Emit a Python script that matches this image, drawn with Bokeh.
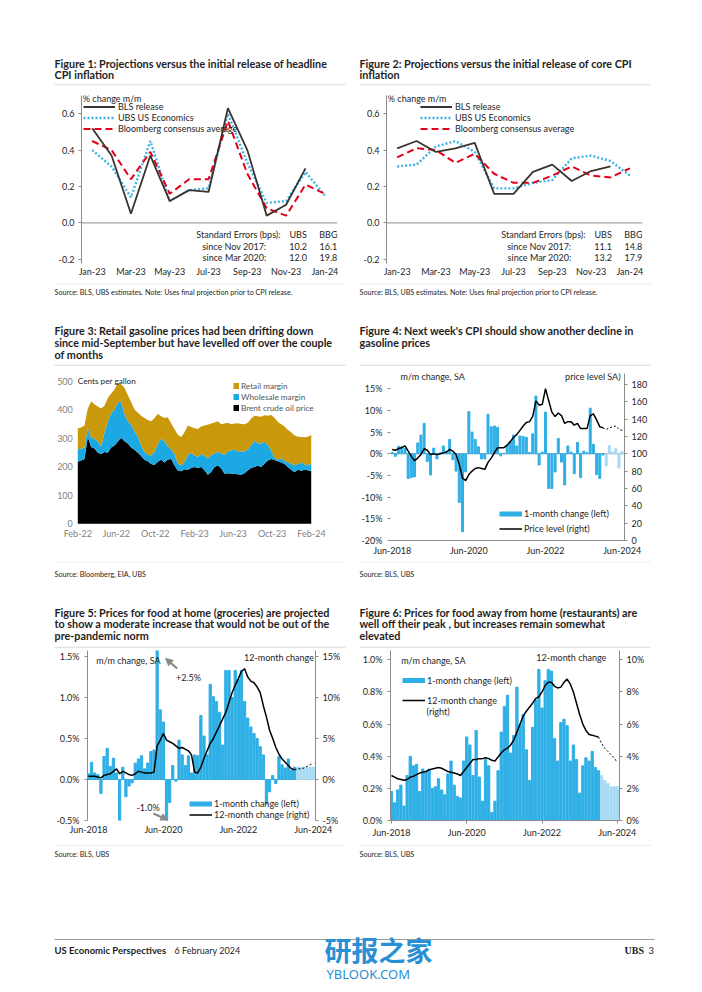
import numpy as np
import pandas as pd
from bokeh.plotting import figure
from bokeh.layouts import column, row
from bokeh.models import (Range1d, LinearAxis, FixedTicker, Label, Legend, LegendItem, Span,
                          PrintfTickFormatter, NumeralTickFormatter, Arrow, NormalHead,
                          DatetimeTickFormatter, ColumnDataSource)
from bokeh.embed import file_html
from bokeh.resources import INLINE

FONT = "Lato"
TXT = "#1e1e1e"
AX = "#8c8c8c"
BLUE = "#2eafe6"
BLUE_LIGHT = "#a6dbf3"
ARROW = "#8a8a8a"
PAGE_W = 700

# ---------------- Figure 1 & 2 data ----------------
cpi_months = ["Jan-23", "Feb-23", "Mar-23", "Apr-23", "May-23", "Jun-23", "Jul-23",
              "Aug-23", "Sep-23", "Oct-23", "Nov-23", "Dec-23", "Jan-24"]
cpi_tick_labels = ["Jan-23", "Mar-23", "May-23", "Jul-23", "Sep-23", "Nov-23", "Jan-24"]
fig1_bls = [0.52, 0.37, 0.05, 0.37, 0.12, 0.18, 0.17, 0.63, 0.40, 0.04, 0.10, 0.30]
fig1_ubs = [0.40, 0.31, 0.14, 0.45, 0.12, 0.18, 0.19, 0.60, 0.33, 0.11, 0.12, 0.28, 0.15]
fig1_bbg = [0.45, 0.40, 0.24, 0.39, 0.16, 0.24, 0.24, 0.56, 0.27, 0.08, 0.04, 0.21, 0.16]
fig2_bls = [0.41, 0.45, 0.39, 0.41, 0.44, 0.16, 0.16, 0.28, 0.32, 0.23, 0.285, 0.31]
fig2_ubs = [0.31, 0.32, 0.42, 0.45, 0.39, 0.19, 0.19, 0.22, 0.235, 0.355, 0.37, 0.34, 0.26]
fig2_bbg = [0.36, 0.41, 0.40, 0.33, 0.38, 0.27, 0.22, 0.22, 0.26, 0.31, 0.26, 0.25, 0.30]
se_rows = ["Standard Errors (bps):", "since Nov 2017:", "since Mar 2020:"]
fig1_se_ubs = ["UBS", "10.2", "12.0"]
fig1_se_bbg = ["BBG", "16.1", "19.8"]
fig2_se_ubs = ["UBS", "11.1", "13.2"]
fig2_se_bbg = ["BBG", "14.8", "17.9"]

# ---------------- Figure 3 data (cents per gallon) ----------------
gas_start = "2022-02-01"
gas_step_hours = 250
brent = [218, 222, 228, 305, 270, 265, 250, 245, 252, 250, 268, 275, 288, 302, 290, 282, 268, 260,
         250, 238, 225, 220, 210, 207, 218, 225, 215, 226, 228, 205, 186, 185, 192, 190, 196, 200,
         196, 200, 188, 172, 182, 200, 205, 195, 176, 178, 177, 175, 174, 172, 178, 188, 196, 200,
         205, 200, 212, 222, 228, 224, 220, 215, 210, 200, 190, 181, 190, 186, 190, 188, 185]
wholesale = [44, 42, 40, 33, 32, 35, 40, 27, 68, 108, 122, 127, 137, 128, 95, 78, 80, 65,
             58, 37, 27, 23, 30, 45, 62, 75, 75, 46, 34, 40, 26, 20, 26, 52, 54, 40,
             40, 46, 50, 58, 60, 47, 47, 53, 66, 77, 81, 85, 81, 83, 76, 74, 79, 92,
             78, 82, 75, 54, 30, 8, 5, 15, 12, 15, 22, 25, 20, 30, 18, 17, 27]
retail = [73, 74, 77, 67, 128, 120, 122, 133, 95, 84, 68, 70, 70, 60, 93, 92, 80, 77,
          82, 105, 120, 122, 120, 120, 106, 78, 82, 102, 90, 87, 101, 100, 104, 103, 90, 96,
          97, 96, 107, 118, 110, 109, 108, 102, 110, 100, 92, 92, 98, 96, 96, 93, 95, 88,
          95, 94, 94, 104, 124, 140, 133, 120, 120, 115, 110, 104, 96, 89, 96, 101, 100]
gas_ticks = ["2022-02-01", "2022-06-01", "2022-10-01", "2023-02-01", "2023-06-01",
             "2023-10-01", "2024-02-01"]

# ---------------- Monthly data Jun-2018 .. Jun-2024 ----------------
months = pd.period_range("2018-06", periods=73, freq="M")
n_actual = 67   # through Dec-2023, remainder projected
gas_mm_actual = [0.3, -0.6, 1.7, 1.6, 1.2, -5.7, -5.5, -5.3, 2.5, 4.3,
                 7.0, -1.8, -4.9, 1.3, -1.2, 0.2, 1.8, 0.4, 3.3, -1.4,
                 -4.0, -11.2, -18.0, -4.2, 9.7, 5.0, 3.3, 1.6, -1.2, -1.2,
                 9.1, 6.2, 6.4, 6.1, -0.5, 0.1, 2.0, 2.8, 4.3, 1.8,
                 4.1, 4.0, 3.8, 0.3, 4.6, 13.3, -2.6, 0.4, 9.6, -8.0,
                 -8.0, -4.2, 3.5, -1.9, -7.2, 1.8, 0.4, -4.6, 2.6, -5.5,
                 0.6, 0.3, 10.5, 2.2, -4.8, -5.7, -0.3]
gas_mm_proj = [-2.8, 1.9, 0.4, 1.2, -3.3, 0.5]
gas_level_actual = [105, 104, 106, 107, 109, 103, 97, 92, 95, 99,
                    106, 104, 99, 100, 99, 100, 101, 102, 105, 103,
                    99, 88, 72, 69, 76, 80, 83, 84, 83, 82,
                    90, 95, 101, 107, 107, 107, 110, 114, 119, 122,
                    127, 132, 136, 137, 143, 161, 156, 157, 175, 161,
                    148, 143, 147, 144, 135, 137, 137, 133, 135, 129,
                    129, 129, 144, 146, 139, 131, 130]
gas_level_proj = [130, 128, 130, 131, 132, 128, 127]

fah_mm_actual = [0.07, 0.21, 0.08, 0.06, -0.17, 0.28, 0.38, 0.16, 0.26, 0.08,
                 -0.50, 0.15, -0.21, -0.08, -0.04, 0.20, 0.25, 0.29, 0.13, 0.20,
                 0.34, 0.36, 2.50, 0.85, 0.70, -1.00, -0.28, 0.17, -0.02, 0.48,
                 0.30, 0.17, 0.29, 0.08, 0.30, 0.29, 0.78, 0.53, 0.30, 1.16,
                 1.01, 0.95, 0.82, 0.42, 1.33, 1.33, 1.00, 1.33, 1.22, 1.33,
                 0.95, 0.75, 0.64, 0.56, 0.50, 0.40, 0.30, -0.30, -0.15, 0.05,
                 -0.05, 0.28, 0.18, 0.14, 0.25, 0.11, 0.15]
fah_mm_proj = [0.15, 0.15, 0.15, 0.15, 0.15, 0.15]
fah_yy_actual = [0.4, 0.4, 0.4, 0.3, 0.2, 0.5, 0.6, 0.7, 1.0, 1.3,
                 0.7, 1.0, 0.8, 0.6, 0.5, 0.7, 1.0, 0.9, 0.8, 0.8,
                 0.8, 0.9, 4.1, 4.8, 5.6, 4.8, 4.6, 4.4, 4.1, 3.8,
                 3.9, 3.7, 3.5, 3.0, 0.9, 0.8, 1.5, 2.6, 3.5, 4.4,
                 5.0, 5.8, 6.6, 7.4, 8.2, 9.4, 10.6, 11.5, 12.3, 13.2,
                 13.5, 12.5, 12.0, 11.8, 11.3, 10.6, 9.0, 7.6, 6.0, 5.0,
                 3.9, 3.1, 2.5, 2.1, 1.7, 1.3, 1.2]
fah_yy_proj = [1.2, 1.3, 1.3, 1.4, 1.6, 1.8, 2.0]

faway_mm_actual = [0.18, 0.11, 0.19, 0.22, 0.09, 0.28, 0.40, 0.34, 0.35, 0.18,
                   0.32, 0.30, 0.32, 0.20, 0.21, 0.26, 0.19, 0.16, 0.29, 0.37,
                   0.22, 0.15, 0.14, 0.37, 0.52, 0.47, 0.28, 0.56, 0.27, 0.12,
                   0.38, 0.34, 0.05, 0.12, 0.31, 0.55, 0.71, 0.78, 0.42, 0.53,
                   0.83, 0.60, 0.66, 0.44, 0.25, 0.58, 0.75, 0.94, 0.70, 0.87,
                   0.94, 0.93, 0.51, 0.37, 0.61, 0.63, 0.59, 0.37, 0.47, 0.38,
                   0.17, 0.34, 0.39, 0.37, 0.43, 0.33, 0.31]
faway_mm_proj = [0.28, 0.25, 0.23, 0.21, 0.21, 0.21]
faway_yy_actual = [2.8, 2.7, 2.6, 2.55, 2.5, 2.55, 2.7, 2.75, 2.85, 2.95,
                   3.0, 3.05, 3.15, 3.2, 3.25, 3.3, 3.25, 3.15, 3.05, 3.0,
                   2.95, 2.9, 2.8, 3.05, 3.3, 3.55, 3.8, 3.8, 3.85, 3.85,
                   3.9, 3.85, 3.75, 3.7, 3.95, 4.2, 4.4, 4.5, 4.7, 5.0,
                   5.5, 6.0, 6.5, 6.8, 7.05, 7.3, 7.6, 7.7, 8.0, 8.4,
                   8.6, 8.6, 8.35, 8.25, 8.3, 8.6, 8.8, 8.5, 8.0, 7.3,
                   6.6, 6.0, 5.6, 5.35, 5.3, 5.25, 5.2]
faway_yy_proj = [5.2, 4.8, 4.5, 4.3, 4.1, 3.9, 3.6]

month_tick_labels = {i: f"Jun-{m.year}" for i, m in enumerate(months)
                     if m.month == 6 and m.year % 2 == 0}


# ---------------- helpers ----------------
def base_fig(w, h, xr, yr, bl, br, bt, bb, x_axis_type="linear"):
    p = figure(width=w, height=h, x_range=xr, y_range=yr, x_axis_type=x_axis_type,
               output_backend="svg", toolbar_location=None, title=None,
               min_border_left=bl, min_border_right=br, min_border_top=bt, min_border_bottom=bb)
    p.grid.visible = False
    p.outline_line_color = None
    p.background_fill_color = "white"
    p.border_fill_color = "white"
    return p


def style_axis(ax, color=TXT, size="9px", line=True, ticks=True, standoff=4):
    ax.major_label_text_font = FONT
    ax.major_label_text_font_size = size
    ax.major_label_text_color = color
    ax.axis_line_color = AX if line else None
    ax.major_tick_line_color = AX if ticks else None
    ax.minor_tick_line_color = None
    ax.major_tick_in = 0
    ax.major_tick_out = 3 if ticks else 0
    ax.major_label_standoff = standoff


def lab(p, x, y, s, size="9px", bold=False, color=TXT, align="left", font=FONT):
    p.add_layout(Label(x=x, y=y, text=s, text_font=font, text_font_size=size,
                       text_font_style="bold" if bold else "normal", text_color=color,
                       text_align=align, text_baseline="middle"))


def proxy(p, color, width):
    return p.line(x=[np.nan], y=[np.nan], line_color=color, line_width=width)


def make_legend(p, items, loc, gw, gh, standoff=3, color=TXT, size="9px"):
    lg = Legend(items=[LegendItem(label=l, renderers=[r]) for l, r in items], location=loc,
                glyph_width=int(gw), glyph_height=int(gh), label_height=int(gh), label_width=10,
                label_standoff=standoff, spacing=0, padding=0, margin=0,
                border_line_color=None, background_fill_alpha=0,
                label_text_font=FONT, label_text_font_size=size, label_text_color=color)
    p.add_layout(lg)


def band_fig(top, h):
    p = figure(width=PAGE_W, height=h, x_range=Range1d(0, PAGE_W), y_range=Range1d(top + h, top),
               output_backend="svg", toolbar_location=None, title=None,
               x_axis_location=None, y_axis_location=None, min_border=0)
    p.grid.visible = False
    p.outline_line_color = None
    return p


def rule(p, x0, x1, y, color="#d9d9d9", w=1):
    p.segment(x0=[x0], y0=[y], x1=[x1], y1=[y], line_color=color, line_width=w)


def title_lines(p, x, y0, lines):
    for i, s in enumerate(lines):
        lab(p, x, y0 + 11.7 * i, s, size="10.8px", bold=True)


LEFT_W = 353
RIGHT_W = PAGE_W - LEFT_W


# ---------------- Figures 1 and 2 ----------------
def cpi_fig(width, bl, br, bls, ubs, bbg, se_ubs, se_bbg, leg_x):
    x = np.arange(len(cpi_months))
    p = base_fig(width, 192, Range1d(-0.55, 12.65), Range1d(-0.223, 0.7), bl, br, 5, 19)
    p.add_layout(Span(location=0, dimension="width", line_color=AX, line_width=1, level="underlay"))
    r_u = p.line(x[:len(ubs)], ubs, line_color="#3cb4e6", line_width=2.4, line_dash="2 2")
    r_b = p.line(x[:len(bbg)], bbg, line_color="#e3001b", line_width=2.0, line_dash="7 4")
    r_l = p.line(x[:len(bls)], bls, line_color="#3b3330", line_width=1.8)
    ya = p.yaxis[0]
    ya.ticker = FixedTicker(ticks=[-0.2, 0.0, 0.2, 0.4, 0.6])
    ya.formatter = NumeralTickFormatter(format="0.0")
    style_axis(ya)
    xa = p.xaxis[0]
    xa.ticker = FixedTicker(ticks=[cpi_months.index(t) for t in cpi_tick_labels])
    xa.major_label_overrides = {cpi_months.index(t): t for t in cpi_tick_labels}
    style_axis(xa, line=False, ticks=False, standoff=2)
    lab(p, -0.48, 0.682, "% change m/m")
    make_legend(p, [("BLS release", r_l), ("UBS US Economics", r_u),
                    ("Bloomberg consensus average", r_b)], (leg_x, 129), 32, 11)
    ys = [-0.064, -0.130, -0.189]
    lab(p, 9.71, ys[0], se_rows[0], align="right")
    lab(p, 8.98, ys[1], se_rows[1], align="right")
    lab(p, 8.98, ys[2], se_rows[2], align="right")
    for i in range(3):
        lab(p, 10.62, ys[i], se_ubs[i], align="center")
        lab(p, 12.18, ys[i], se_bbg[i], align="center")
    return p


p1 = cpi_fig(LEFT_W, 81, 16, fig1_bls, fig1_ubs, fig1_bbg, fig1_se_ubs, fig1_se_bbg, 2)
p2 = cpi_fig(RIGHT_W, 33, RIGHT_W - 33 - 256, fig2_bls, fig2_ubs, fig2_bbg,
             fig2_se_ubs, fig2_se_bbg, 34)

# ---------------- Figure 3 ----------------
t0 = pd.Timestamp(gas_start)
t_end_tick = pd.Timestamp(gas_ticks[-1])
gas_dates = [t0 + pd.Timedelta(hours=gas_step_hours * k) for k in range(len(brent))]
src3 = ColumnDataSource(dict(date=gas_dates, brent=brent, wholesale=wholesale, retail=retail))
# frame spans page x 45..340; first tick (Feb-22) at x 77.3, last tick (Feb-24) at x 311
px_per_day = (311 - 77.3) / (t_end_tick - t0).days
x3_start = (t0 - pd.Timedelta(days=(77.3 - 45) / px_per_day)).value / 1e6
x3_end = (t_end_tick + pd.Timedelta(days=(340 - 311) / px_per_day)).value / 1e6
p3 = base_fig(LEFT_W, 192, Range1d(x3_start, x3_end), Range1d(-58.7, 528.1), 45, LEFT_W - 340, 5, 20,
              x_axis_type="datetime")
C_BRENT, C_WHOLE, C_RETAIL = "#000000", "#1ca8e3", "#c9980b"
p3.varea_stack(stackers=["brent", "wholesale", "retail"], x="date",
               color=[C_BRENT, C_WHOLE, C_RETAIL], source=src3)
ya3 = p3.yaxis[0]
ya3.ticker = FixedTicker(ticks=[0, 100, 200, 300, 400, 500])
style_axis(ya3, color="#7f7f7f", line=False, ticks=False, standoff=5)
ya3.fixed_location = t0.value / 1e6
xa3 = p3.xaxis[0]
xa3.ticker = FixedTicker(ticks=[pd.Timestamp(d).value / 1e6 for d in gas_ticks])
fmt = "%b-%y"
xa3.formatter = DatetimeTickFormatter(days=fmt, months=fmt, years=fmt, hours=fmt)
style_axis(xa3, color="#7f7f7f", line=False, ticks=False, standoff=4)
xa3.fixed_location = 0
lab(p3, t0.value / 1e6, 503, "Cents per gallon", size="8.2px")
px_r = proxy(p3, C_RETAIL, 6)
px_w = proxy(p3, C_WHOLE, 6)
px_b = proxy(p3, C_BRENT, 6)
make_legend(p3, [("Retail margin", px_r), ("Wholesale margin", px_w),
                 ("Brent crude oil price", px_b)], (188, 127), 6, 11, standoff=2,
            color="#555555", size="8.2px")

# ---------------- Figure 4 ----------------
m = np.arange(len(months))
p4 = base_fig(RIGHT_W, 192, Range1d(-0.53, 72.73), Range1d(-20, 18.5), 37, RIGHT_W - 37 - 234, 5, 20)
p4.extra_y_ranges = {"right": Range1d(0, 192.5)}
p4.add_layout(Span(location=0, dimension="width", line_color="#a0a0a0", line_width=1, level="underlay"))
p4.vbar(x=m[:n_actual], top=gas_mm_actual, width=0.62, color=BLUE)
p4.vbar(x=m[n_actual:], top=gas_mm_proj, width=0.62, color=BLUE_LIGHT)
r4 = p4.line(m[:n_actual], gas_level_actual, y_range_name="right", line_color="black", line_width=1.5)
p4.line(m[n_actual - 1:], gas_level_proj, y_range_name="right", line_color="black", line_width=1,
        line_dash="2 2")
ya4 = p4.yaxis[0]
ya4.ticker = FixedTicker(ticks=[-20, -15, -10, -5, 0, 5, 10, 15])
ya4.formatter = PrintfTickFormatter(format="%d%%")
style_axis(ya4, line=False, standoff=5)
ra4 = LinearAxis(y_range_name="right", ticker=FixedTicker(ticks=list(range(0, 181, 20))))
style_axis(ra4)
p4.add_layout(ra4, "right")
xa4 = p4.xaxis[0]
xa4.ticker = FixedTicker(ticks=list(month_tick_labels.keys()))
xa4.major_label_overrides = month_tick_labels
style_axis(xa4, ticks=False, standoff=4)
lab(p4, 2.6, 17.8, "m/m change, SA")
lab(p4, 71.5, 17.8, "price level SA)", align="right")
px4 = proxy(p4, BLUE, 5)
make_legend(p4, [("1-month change (left)", px4), ("Price level (right)", r4)], (109, 4), 23, 15,
            standoff=2)

# ---------------- Figure 5 ----------------
p5 = base_fig(LEFT_W, 194, Range1d(-0.3, 72.7), Range1d(-0.5, 1.573), 87, 38, 2, 22)
p5.extra_y_ranges = {"right": Range1d(-5, 15.73)}
p5.add_layout(Span(location=0, dimension="width", line_color="#a0a0a0", line_width=1, level="underlay"))
p5.vbar(x=m[:n_actual], top=fah_mm_actual, width=0.72, color=BLUE)
p5.vbar(x=m[n_actual:], top=fah_mm_proj, width=0.72, color=BLUE_LIGHT)
r5 = p5.line(m[:n_actual], fah_yy_actual, y_range_name="right", line_color="black", line_width=1.5)
p5.line(m[n_actual - 1:], fah_yy_proj, y_range_name="right", line_color="black", line_width=1,
        line_dash="2 2")
ya5 = p5.yaxis[0]
ya5.ticker = FixedTicker(ticks=[-0.5, 0.0, 0.5, 1.0, 1.5])
ya5.formatter = PrintfTickFormatter(format="%.1f%%")
style_axis(ya5, standoff=5)
ra5 = LinearAxis(y_range_name="right", ticker=FixedTicker(ticks=[-5, 0, 5, 10, 15]),
                 formatter=PrintfTickFormatter(format="%d%%"))
style_axis(ra5, standoff=4)
p5.add_layout(ra5, "right")
xa5 = p5.xaxis[0]
xa5.ticker = FixedTicker(ticks=list(month_tick_labels.keys()))
xa5.major_label_overrides = month_tick_labels
style_axis(xa5, line=False, ticks=False, standoff=3)
lab(p5, 2.5, 1.451, "m/m change, SA")
lab(p5, 72.2, 1.484, "12-month change", align="right")
lab(p5, 32.05, 1.244, "+2.5%", align="center")
lab(p5, 19.1, -0.345, "-1.0%", align="center")
p5.add_layout(Arrow(end=NormalHead(size=7, fill_color=ARROW, line_color=ARROW),
                    x_start=28.4, y_start=1.354, x_end=24.7, y_end=1.476,
                    line_color=ARROW, line_width=2.2))
p5.add_layout(Arrow(end=NormalHead(size=7, fill_color=ARROW, line_color=ARROW),
                    x_start=20.8, y_start=-0.415, x_end=25.4, y_end=-0.495,
                    line_color=ARROW, line_width=2.2))
px5 = proxy(p5, BLUE, 5)
make_legend(p5, [("1-month change (left)", px5), ("12-month change (right)", r5)], (102, 0), 23, 11,
            standoff=2)

# ---------------- Figure 6 ----------------
p6 = base_fig(RIGHT_W, 194, Range1d(-0.3, 72.7), Range1d(0, 1.058), 37, RIGHT_W - 37 - 229, 2, 22)
p6.extra_y_ranges = {"right": Range1d(0, 10.58)}
p6.vbar(x=m[:n_actual], top=faway_mm_actual, width=0.72, color=BLUE)
p6.vbar(x=m[n_actual:], top=faway_mm_proj, width=0.72, color=BLUE_LIGHT)
r6 = p6.line(m[:n_actual], faway_yy_actual, y_range_name="right", line_color="black", line_width=1.5)
p6.line(m[n_actual - 1:], faway_yy_proj, y_range_name="right", line_color="black", line_width=1,
        line_dash="2 2")
ya6 = p6.yaxis[0]
ya6.ticker = FixedTicker(ticks=[0.0, 0.2, 0.4, 0.6, 0.8, 1.0])
ya6.formatter = PrintfTickFormatter(format="%.1f%%")
style_axis(ya6, standoff=5)
ra6 = LinearAxis(y_range_name="right", ticker=FixedTicker(ticks=[0, 2, 4, 6, 8, 10]),
                 formatter=PrintfTickFormatter(format="%d%%"))
style_axis(ra6, standoff=4)
p6.add_layout(ra6, "right")
xa6 = p6.xaxis[0]
xa6.ticker = FixedTicker(ticks=list(month_tick_labels.keys()))
xa6.major_label_overrides = month_tick_labels
style_axis(xa6, ticks=True, standoff=3)
lab(p6, 3.1, 0.996, "m/m change, SA")
lab(p6, 68.5, 1.014, "12-month change", align="right")
px6 = proxy(p6, BLUE, 5)
make_legend(p6, [("1-month change (left)", px6), ("12-month change", r6)], (12, 110), 23, 20,
            standoff=2)
lab(p6, 11.2, 0.678, "(right)")

# ---------------- text bands (page coordinates) ----------------
b1 = band_fig(0, 90)
title_lines(b1, 54, 62.7, ["Figure 1: Projections versus the initial release of headline", "CPI inflation"])
title_lines(b1, 359, 62.7, ["Figure 2: Projections versus the initial release of core CPI", "inflation"])
rule(b1, 54, 345, 84.3)
rule(b1, 359, 650, 84.3)

b3 = band_fig(282, 86)
rule(b3, 54, 345, 283.5, color="#ececec")
rule(b3, 359, 650, 283.5, color="#ececec")
src12 = "Source: BLS, UBS estimates. Note: Uses final projection prior to CPI release."
lab(b3, 54, 291.7, src12, size="7.2px")
lab(b3, 359, 291.7, src12, size="7.2px")
title_lines(b3, 54, 330.3, ["Figure 3: Retail gasoline prices had been drifting down",
                            "since mid-September but have levelled off over the couple",
                            "of months"])
title_lines(b3, 359, 330.3, ["Figure 4: Next week's CPI should show another decline in",
                             "gasoline prices"])
rule(b3, 54, 345, 364.7)
rule(b3, 359, 650, 364.7)

b5 = band_fig(560, 88)
rule(b5, 54, 345, 561.5, color="#ececec")
rule(b5, 359, 650, 561.5, color="#ececec")
lab(b5, 54, 574, "Source: Bloomberg, EIA, UBS", size="7.2px")
lab(b5, 359, 573.5, "Source: BLS, UBS", size="7.2px")
title_lines(b5, 54, 611.7, ["Figure 5: Prices for food at home (groceries) are projected",
                            "to show a moderate increase that would not be out of the",
                            "pre-pandemic norm"])
title_lines(b5, 359, 611.7, ["Figure 6: Prices for food away from home (restaurants) are",
                             "well off their peak , but increases remain somewhat",
                             "elevated"])
rule(b5, 54, 345, 646.7)
rule(b5, 359, 650, 646.7)

b7 = band_fig(842, 148)
rule(b7, 54, 345, 845, color="#ececec")
rule(b7, 359, 650, 845, color="#ececec")
lab(b7, 54, 854, "Source: BLS, UBS", size="7.2px")
lab(b7, 359, 854, "Source: BLS, UBS", size="7.2px")
rule(b7, 54, 654, 939, color="#9a9a9a", w=1.2)
lab(b7, 54, 949.5, "US Economic Perspectives", size="9.5px", bold=True)
lab(b7, 174, 949.5, "6 February 2024", size="9px")
lab(b7, 624, 949.5, "UBS", size="10px", bold=True, font="Liberation Serif")
lab(b7, 648, 949.5, "3", size="9.5px")
lab(b7, 324, 949, "研报之家", size="27px", bold=True, color="#2a8fd4", font="Noto Sans CJK SC")
lab(b7, 326, 973.5, "YBLOOK.COM", size="13px", color="#2a8fd4", font="Noto Sans")

layout = column(b1, row(p1, p2), b3, row(p3, p4), b5, row(p5, p6), b7)
open("out.html", "w").write(file_html(layout, INLINE))
